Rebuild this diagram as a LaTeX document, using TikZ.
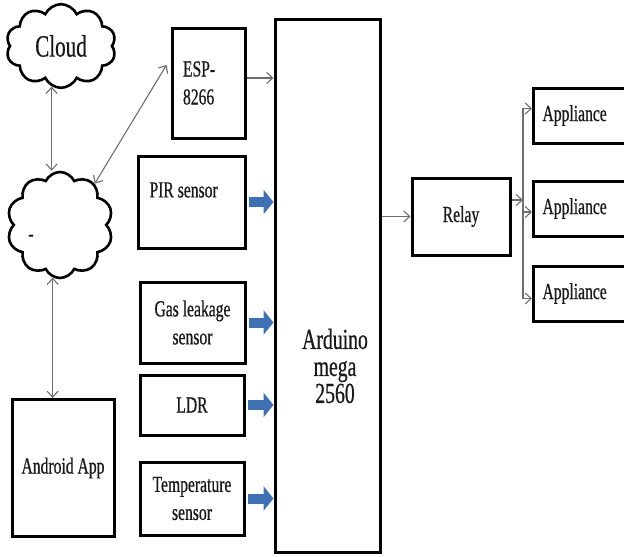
\documentclass[tikz,border=0pt]{standalone}
\usepackage{fontspec}
\setmainfont[FakeStretch=0.68,FakeBold=0.6]{Liberation Serif}
\usepackage{tikz}
\usetikzlibrary{arrows.meta}
\usetikzlibrary{shapes}

\newcommand{\lblfont}{\fontsize{23}{28}\selectfont}
\newcommand{\ardfont}{\fontsize{29}{27}\selectfont}
\newcommand{\cloudfont}{\fontsize{31}{34}\selectfont}

\definecolor{linegray}{RGB}{110,110,110}
\definecolor{inblue}{RGB}{62,112,180}
\definecolor{txtgray}{RGB}{25,25,25}

\tikzset{
  box/.style={draw, line width=3pt, inner sep=0pt, text=txtgray, font=\lblfont},
  puff/.style={cloud, draw, line width=2.6pt, cloud puffs=10, cloud puff arc=130,
    inner sep=0pt, text=txtgray},
  conn/.style={draw=linegray, line width=1.1pt, -{Straight Barb[length=6pt,width=11pt]}},
  biconn/.style={conn, {Straight Barb[length=6pt,width=11pt]}-{Straight Barb[length=6pt,width=11pt]}},
  feed/.style={draw=inblue, line width=10pt, shorten <=2pt, -{Triangle[length=10pt,width=24pt]}}
}

\begin{document}
\begin{tikzpicture}[x=1pt,y=-1pt]
  \useasboundingbox (0,0) rectangle (624,557);
  \clip (0,0) rectangle (624,557);

  \node[puff, minimum width=110pt, minimum height=76pt, font=\cloudfont] at (61,46) (cloudtop){Cloud};
  \node[puff, minimum width=106pt, minimum height=106pt] at (60,225) (cloudnet){};
  \node[font=\lblfont, text=txtgray] at (31,238) (dash){-};
  \node[box, minimum width=102pt, minimum height=137pt] at (63,468) (android){Android App};

  \node[box, minimum width=73pt, minimum height=110pt, text width=51pt, align=left] at (208.5,83) (esp){ESP-\\8266};
  \node[box, minimum width=107pt, minimum height=92pt] at (191.5,202) (pir){};
  \node[font=\lblfont, text=txtgray, anchor=west] at (146,190) (pirtext){PIR sensor};
  \node[box, minimum width=105pt, minimum height=81pt, align=center] at (192.5,322.5) (gas){Gas leakage\\sensor};
  \node[box, minimum width=104pt, minimum height=60pt] at (192,405) (ldr){LDR};
  \node[box, minimum width=104pt, minimum height=73pt, align=center] at (192,498.5) (temp){Temperature\\sensor};

  \node[box, minimum width=105pt, minimum height=533pt] at (327.5,285.5) (ard){};
  \node[font=\ardfont, text=txtgray, align=center] at (335,366) (ardtext){Arduino\\mega\\2560};

  \node[box, minimum width=98pt, minimum height=77pt] at (461,216.5) (relay){Relay};
  \node[box, anchor=west, minimum width=110pt, minimum height=55pt, text width=92pt, align=left] at (532,115.5) (appa){Appliance};
  \node[box, anchor=west, minimum width=110pt, minimum height=55pt, text width=92pt, align=left] at (532,208.5) (appb){Appliance};
  \node[box, anchor=west, minimum width=110pt, minimum height=55pt, text width=92pt, align=left] at (532,293.5) (appc){Appliance};
  \coordinate (bus) at (523,200);

  \draw[biconn] (cloudtop.-103) -- (cloudtop.-103 |- cloudnet.north);
  \draw[biconn] (cloudnet.50) -- ([xshift=-4pt,yshift=18pt]esp.west);
  \draw[biconn] (cloudnet.-98) -- (cloudnet.-98 |- android.north);

  \draw[conn] ([yshift=5pt]esp.east) -- ([yshift=5pt]esp.east -| ard.west);
  \draw[feed] (pir.east) -- (pir.east -| ard.west);
  \draw[feed] (gas.east) -- (gas.east -| ard.west);
  \draw[feed] (ldr.east) -- (ldr.east -| ard.west);
  \draw[feed] (temp.east) -- (temp.east -| ard.west);

  \draw[conn] (relay.west -| ard.east) -- (relay.west);
  \draw[conn] ([yshift=16.5pt]relay.east) -- (bus);
  \draw[conn] (bus) |- ([yshift=7pt]appa.west);
  \draw[conn] (bus) |- ([yshift=-3.5pt]appb.west);
  \draw[conn] (bus) |- ([yshift=-5pt]appc.west);
\end{tikzpicture}
\end{document}
